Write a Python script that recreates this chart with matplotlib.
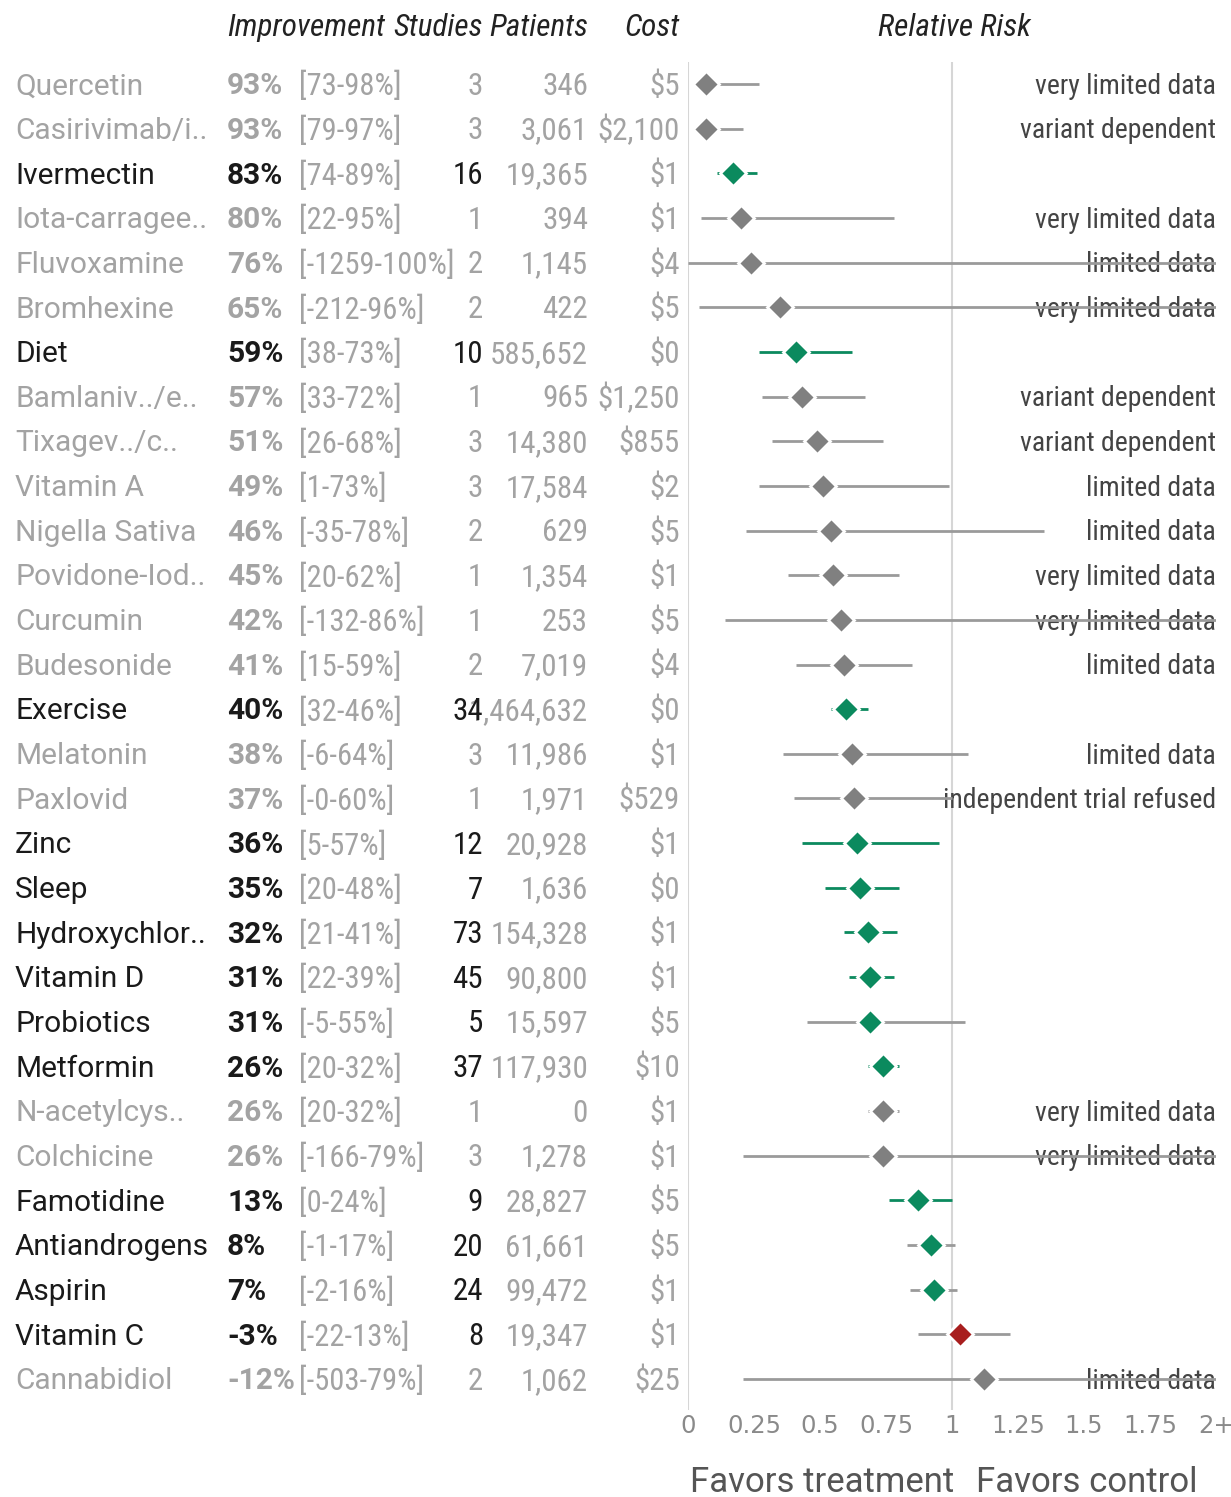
import matplotlib
matplotlib.use("Agg")
import matplotlib.pyplot as plt
from matplotlib import font_manager
from matplotlib.transforms import blended_transform_factory

names = ["Quercetin", "Casirivimab/i..", "Ivermectin", "Iota-carragee..", "Fluvoxamine",
         "Bromhexine", "Diet", "Bamlaniv../e..", "Tixagev../c..", "Vitamin A",
         "Nigella Sativa", "Povidone-Iod..", "Curcumin", "Budesonide", "Exercise",
         "Melatonin", "Paxlovid", "Zinc", "Sleep", "Hydroxychlor..",
         "Vitamin D", "Probiotics", "Metformin", "N-acetylcys..", "Colchicine",
         "Famotidine", "Antiandrogens", "Aspirin", "Vitamin C", "Cannabidiol"]
improvement = [93, 93, 83, 80, 76, 65, 59, 57, 51, 49, 46, 45, 42, 41, 40,
               38, 37, 36, 35, 32, 31, 31, 26, 26, 26, 13, 8, 7, -3, -12]
ci_low = [73, 79, 74, 22, -1259, -212, 38, 33, 26, 1, -35, 20, -132, 15, 32,
          -6, -0.0, 5, 20, 21, 22, -5, 20, 20, -166, 0, -1, -2, -22, -503]
ci_high = [98, 97, 89, 95, 100, 96, 73, 72, 68, 73, 78, 62, 86, 59, 46,
           64, 60, 57, 48, 41, 39, 55, 32, 32, 79, 24, 17, 16, 13, 79]
studies = [3, 3, 16, 1, 2, 2, 10, 1, 3, 3, 2, 1, 1, 2, 34,
           3, 1, 12, 7, 73, 45, 5, 37, 1, 3, 9, 20, 24, 8, 2]
patients = [346, 3061, 19365, 394, 1145, 422, 585652, 965, 14380, 17584, 629, 1354,
            253, 7019, 1464632, 11986, 1971, 20928, 1636, 154328, 90800, 15597,
            117930, 0, 1278, 28827, 61661, 99472, 19347, 1062]
cost = ["$5", "$2,100", "$1", "$1", "$4", "$5", "$0", "$1,250", "$855", "$2",
        "$5", "$1", "$5", "$4", "$0", "$1", "$529", "$1", "$0", "$1",
        "$1", "$5", "$10", "$1", "$1", "$5", "$5", "$1", "$1", "$25"]
notes = ["very limited data", "variant dependent", "", "very limited data", "limited data",
         "very limited data", "", "variant dependent", "variant dependent", "limited data",
         "limited data", "very limited data", "very limited data", "limited data", "",
         "limited data", "independent trial refused", "", "", "",
         "", "", "", "very limited data", "very limited data",
         "", "", "", "", "limited data"]
# rows with enough data are drawn dark, the rest greyed out
established = [n == "" for n in notes]

W, H = 1231, 1497
GREEN = "#0b8a5e"
GREY_MARK = "#808080"
RED = "#a81e1e"
LIGHT = "#a3a3a3"
DARK = "#1a1a1a"

available = {f.name for f in font_manager.fontManager.ttflist}
cond = next((f for f in ["Roboto Condensed", "Liberation Sans Narrow"] if f in available),
            "DejaVu Sans")
reg = "Roboto"

fig = plt.figure(figsize=(W / 100, H / 100), dpi=100)
row0, step = 84, 44.655
ax = fig.add_axes([688 / W, 1 - 1410 / H, (1216 - 688) / W, (1410 - 62) / H])
ax.set_xlim(0, 2)
ax.set_ylim((1410 - row0) / step, (62 - row0) / step)
for s in ax.spines.values():
    s.set_visible(False)
ax.set_yticks([])
ax.set_xticks([0, 0.25, 0.5, 0.75, 1, 1.25, 1.5, 1.75, 2])
ax.set_xticklabels(["0", "0.25", "0.5", "0.75", "1", "1.25", "1.5", "1.75", "2+"])
ax.tick_params(axis="x", length=0, pad=3, labelsize=17.5, labelcolor="#8a8a8a")
ax.axvline(0, color="#d6d6d6", lw=1.5, zorder=0)
ax.axvline(1, color="#d6d6d6", lw=1.5, zorder=0)

tr = blended_transform_factory(fig.transFigure, ax.transData)
dy = 0.05  # nudge text down onto the marker centre line

for i, name in enumerate(names):
    rr = 1 - improvement[i] / 100
    lo = min(1 - ci_high[i] / 100, 2)
    hi = min(1 - ci_low[i] / 100, 2)
    if not established[i]:
        mcol = GREY_MARK
    elif rr > 1:
        mcol = RED
    else:
        mcol = GREEN
    lcol = GREEN if (established[i] and hi <= 1.0) else "#9a9a9a"
    ax.hlines(i, lo, hi, color=lcol, lw=2, zorder=3)
    ax.plot(min(rr, 2), i, marker="D", ms=13.5, color=mcol, mec="white", mew=2,
            zorder=4, clip_on=False)
    if notes[i]:
        ax.text(2.0, i + dy, notes[i], ha="right", va="center", fontsize=20,
                color="#444444", family=cond, zorder=2)

    tcol = DARK if established[i] else LIGHT
    y = i + dy
    fig.text(15 / W, y, name, transform=tr, ha="left", va="center",
             fontsize=21.5, color=tcol, family=reg)
    fig.text(227 / W, y, f"{improvement[i]}%", transform=tr, ha="left", va="center",
             fontsize=21.5, color=tcol, family=reg, weight="bold")
    fig.text(299 / W, y, f"[{ci_low[i]:g}-{ci_high[i]:g}%]", transform=tr, ha="left",
             va="center", fontsize=22, color=LIGHT, family=cond)
    fig.text(588 / W, y, f"{patients[i]:,}", transform=tr, ha="right", va="center",
             fontsize=22.3, color=LIGHT, family=cond)
    fig.text(483 / W, y, f"{studies[i]}", transform=tr, ha="right", va="center",
             fontsize=22.3, color=tcol, family=cond)
    fig.text(680 / W, y, cost[i], transform=tr, ha="right", va="center",
             fontsize=22.3, color=LIGHT, family=cond)

hy = 1 - 28 / H
for x, label, ha in [(227, "Improvement", "left"), (483, "Studies", "right"),
                     (588, "Patients", "right"), (680, "Cost", "right"),
                     (954, "Relative Risk", "center")]:
    fig.text(x / W, hy, label, ha=ha, va="center", fontsize=22.5, style="italic",
             color="#222222", family=cond)

fig.text(822 / W, 1 - 1482 / H, "Favors treatment", ha="center", va="center",
         fontsize=25, color="#555555", family=reg)
fig.text(1087 / W, 1 - 1482 / H, "Favors control", ha="center", va="center",
         fontsize=25, color="#555555", family=reg)

fig.savefig("out.png", dpi=100, facecolor="white")
